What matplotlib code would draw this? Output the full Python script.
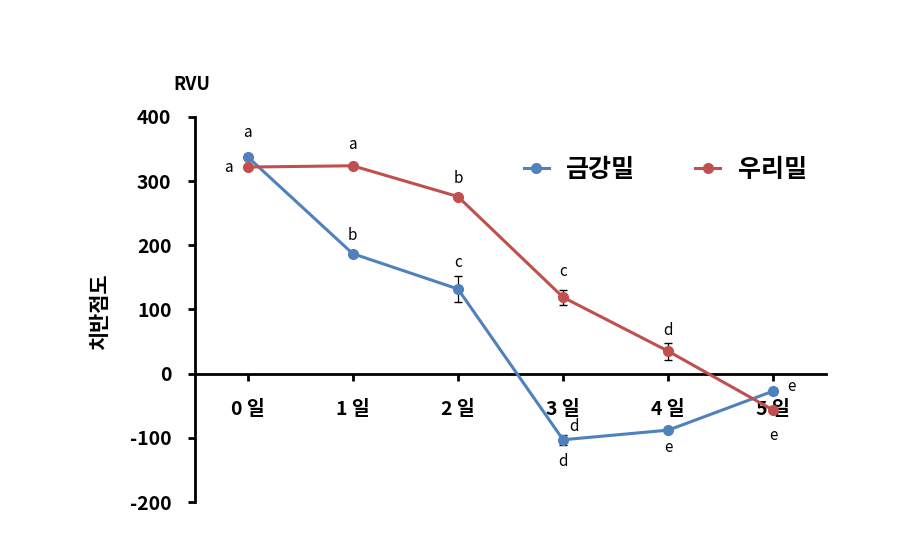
import matplotlib
matplotlib.use("Agg")
import matplotlib.pyplot as plt
from matplotlib.lines import Line2D

plt.rcParams["font.family"] = ["Noto Sans CJK KR", "DejaVu Sans"]
plt.rcParams["axes.unicode_minus"] = False

# 데이터
days = ["0 일", "1 일", "2 일", "3 일", "4 일", "5 일"]
geumgang = [338, 187, 132, -103, -88, -27]
geumgang_err = [4, 3, 20, 8, 3, 5]
geumgang_sig = ["a", "b", "c", "d", "e", "e"]
uri = [322, 324, 276, 119, 35, -57]
uri_err = [3, 3, 4, 12, 13, 5]
uri_sig = ["a", "a", "b", "c", "d", "e"]

BLUE = "#4F81BD"
RED = "#C0504D"

fig = plt.figure(figsize=(8.99, 5.34), dpi=100)
ax = fig.add_axes([195 / 899, 1 - 502 / 534, 631 / 899, 385 / 534])

# 축 모양 먼저 (set_position 이 tick 을 리셋하므로)
for side in ["top", "right"]:
    ax.spines[side].set_visible(False)
ax.spines["bottom"].set_position(("data", 0))
ax.spines["bottom"].set_linewidth(2)
ax.spines["left"].set_linewidth(2)

x = list(range(len(days)))
ax.errorbar(x, geumgang, yerr=geumgang_err, color=BLUE, lw=2.2, marker="o",
            ms=7, ecolor="black", elinewidth=0.9, capsize=3, zorder=4)
ax.errorbar(x, uri, yerr=uri_err, color=RED, lw=2.2, marker="o",
            ms=7, ecolor="black", elinewidth=0.9, capsize=3, zorder=4)

# 유의성 문자 (offset in pixels)
blue_off = [(0, 24), (0, 18), (0, 26), (0, -22), (0, -17), (18, 4)]
red_off = [(-19, 0), (0, 21), (0, 18), (0, 26), (0, 21), (0, -25)]
for i, (s, off) in enumerate(zip(geumgang_sig, blue_off)):
    ax.annotate(s, (i, geumgang[i]), xytext=off, textcoords="offset pixels",
                ha="center", va="center", fontsize=11, zorder=5)
for i, (s, off) in enumerate(zip(uri_sig, red_off)):
    ax.annotate(s, (i, uri[i]), xytext=off, textcoords="offset pixels",
                ha="center", va="center", fontsize=11, zorder=5)
# 3일 라벨 뒤에 숨은 d
ax.annotate("d", (3, geumgang[3]), xytext=(11, 13), textcoords="offset pixels",
            ha="center", va="center", fontsize=11, zorder=1)

ax.set_xlim(-0.5, 5.5)
ax.set_ylim(-200, 400)
ax.set_yticks([-200, -100, 0, 100, 200, 300, 400])
ax.set_xticks(x)
ax.set_xticklabels(days)
ax.tick_params(axis="y", direction="out", length=5, width=2, pad=12,
               labelsize=14)
ax.tick_params(axis="x", direction="out", length=5, width=2, pad=14,
               labelsize=14)
for lab in ax.get_yticklabels() + ax.get_xticklabels():
    lab.set_fontweight("bold")

ax.text(-0.005, 1.085, "RVU", transform=ax.transAxes, fontsize=13,
        fontweight="bold", ha="center", va="center")
fig.text(100 / 899, 1 - 312 / 534, "치반점도", rotation=90, fontsize=15,
         fontweight="bold", ha="center", va="center")

handles = [
    Line2D([], [], color=BLUE, lw=2.2, marker="o", ms=7),
    Line2D([], [], color=RED, lw=2.2, marker="o", ms=7),
]
ax.legend(handles, ["금강밀", "우리밀"], loc="center",
          bbox_to_anchor=(0.745, 0.862), ncol=2, frameon=False,
          handlelength=1.0, handletextpad=0.7, columnspacing=2.4,
          prop={"size": 18, "weight": "bold"})

fig.savefig("out.png", dpi=100)
